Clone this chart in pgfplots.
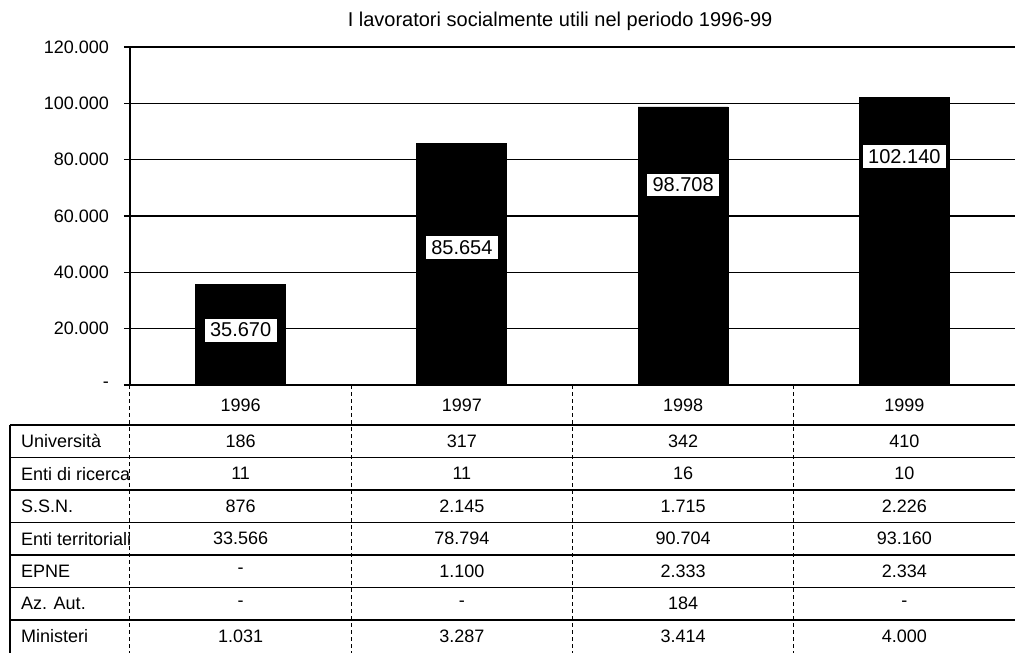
\documentclass[border=0pt]{standalone}
\usepackage{fontspec}
\setmainfont{Liberation Sans}
\usepackage{pgfplots}
\pgfplotsset{compat=1.18}

\begin{document}
\begin{tikzpicture}[font=\fontsize{9}{11}\selectfont]
\begin{axis}[
    scale only axis,
    width=442.5pt,
    height=169pt,
    xmin=-0.5, xmax=3.5,
    ymin=0, ymax=120000,
    axis x line*=bottom,
    axis y line*=left,
    axis line style={black, line width=0.9pt},
    xtick=\empty,
    ytick={0,20000,...,120000},
    yticklabels={-,20.000,40.000,60.000,80.000,100.000,120.000},
    scaled y ticks=false,
    ymajorgrids,
    grid style={black, line width=0.6pt},
    tick align=outside,
    major tick length=3pt,
    tick style={black, line width=0.6pt},
    y tick label style={xshift=-4pt},
    clip=false,
]
\addplot[ybar, bar width=45pt, fill=black, draw=black] coordinates {
    (0,35670) (1,85654) (2,98708) (3,102140)
};
% value boxes, placed by hand as in the original
\addplot[draw=none, mark=none, nodes near coords, point meta=explicit symbolic,
    every node near coord/.append style={anchor=center, fill=white, draw=black,
        line width=0.6pt, font=\fontsize{10}{12}\selectfont, inner xsep=3pt, inner ysep=2.5pt}]
    coordinates {
    (0,19500) [35.670]
    (1,48700) [85.654]
    (2,71000) [98.708]
    (3,81000) [102.140]
};
\coordinate (O) at (rel axis cs:0,0);
\node[anchor=base, yshift=10pt, font=\fontsize{10}{12}\selectfont]
    at (rel axis cs:0.486,1) {I lavoratori socialmente utili nel periodo 1996-99};
\end{axis}

% data table under the chart
\begin{scope}[shift={(O)}]
  \path (-65pt,-134pt) rectangle (444pt,192.5pt);
  \foreach \i in {0,...,6}
    \draw[line width=0.6pt] (-60pt,{-20pt-\i*16.25pt}) -- (442.5pt,{-20pt-\i*16.25pt});
  \draw[line width=0.8pt] (-60pt,-20pt) -- (-60pt,-134pt);
  \foreach \k in {0,...,3}
    \draw[line width=0.5pt, dash pattern=on 2pt off 1.5pt] ({\k*110.625pt},0pt) -- ({\k*110.625pt},-134pt);
  \foreach \y [count=\k from 0] in {1996,1997,1998,1999}
    \node at ({(\k+0.5)*110.625pt},-10pt) {\y};
  \foreach \lab/\a/\b/\c/\d [count=\i from 0] in {
      Università/186/317/342/410,
      Enti di ricerca/11/11/16/10,
      S.S.N./876/2.145/1.715/2.226,
      Enti territoriali/33.566/78.794/90.704/93.160,
      EPNE/-/1.100/2.333/2.334,
      Az. Aut./-/-/184/-,
      Ministeri/1.031/3.287/3.414/4.000} {
    \node[anchor=west] at (-58pt,{-20pt-(\i+0.5)*16.25pt}) {\lab};
    \node at ({0.5*110.625pt},{-20pt-(\i+0.5)*16.25pt}) {\a};
    \node at ({1.5*110.625pt},{-20pt-(\i+0.5)*16.25pt}) {\b};
    \node at ({2.5*110.625pt},{-20pt-(\i+0.5)*16.25pt}) {\c};
    \node at ({3.5*110.625pt},{-20pt-(\i+0.5)*16.25pt}) {\d};
  }
\end{scope}
\end{tikzpicture}
\end{document}
